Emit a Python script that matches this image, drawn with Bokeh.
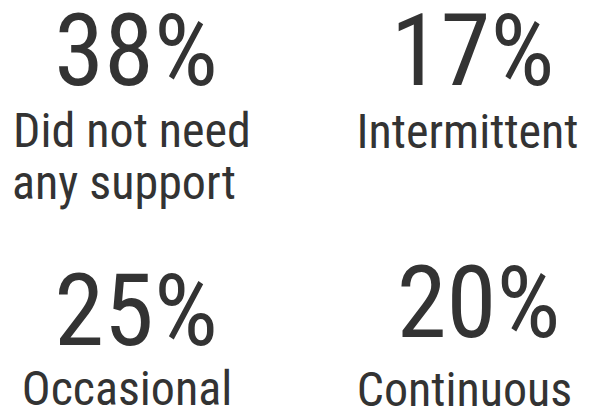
from bokeh.plotting import figure
from bokeh.models import Range1d, ColumnDataSource
from bokeh.core.properties import value
from bokeh.embed import file_html
from bokeh.resources import INLINE

# Data
percentages = [38, 17, 25, 20]
labels = ["Did not need\nany support", "Intermittent", "Occasional", "Continuous"]

# Layout (pixels within figure, text centres)
W, H = 596, 407
num_x = [135.5, 472, 135.5, 478]
num_y = [48.5, 48, 308, 300.5]
lab_x = [[131.5, 123.5], [467], [126.5], [464]]
lab_y = [130, 130.5, 388, 389]
LINE_H = 52
FONT = "Roboto Condensed"
COLOR = "#333333"

p = figure(width=W, height=H, output_backend="svg", toolbar_location=None,
           x_range=Range1d(0, W), y_range=Range1d(H, 0), min_border=0)
p.axis.visible = False
p.grid.visible = False
p.outline_line_color = None
p.background_fill_color = "white"
p.border_fill_color = "white"

src_num = ColumnDataSource(dict(x=num_x, y=[v + 1.5 for v in num_y],
                                t=[f"{v}%" for v in percentages]))
p.text(x="x", y="y", text="t", source=src_num, text_font=value(FONT),
       text_font_size="101px", text_align="center", text_baseline="alphabetic",
       text_color=COLOR)

lx, ly, lt = [], [], []
for xs, y, lab in zip(lab_x, lab_y, labels):
    for i, line in enumerate(lab.split("\n")):
        lx.append(xs[i]); ly.append(y + i * LINE_H); lt.append(line)
src_lab = ColumnDataSource(dict(x=lx, y=ly, t=lt))
p.text(x="x", y="y", text="t", source=src_lab, text_font=value(FONT),
       text_font_size="48px", text_align="center", text_baseline="alphabetic",
       text_color=COLOR)

open("out.html", "w").write(file_html(p, INLINE))
